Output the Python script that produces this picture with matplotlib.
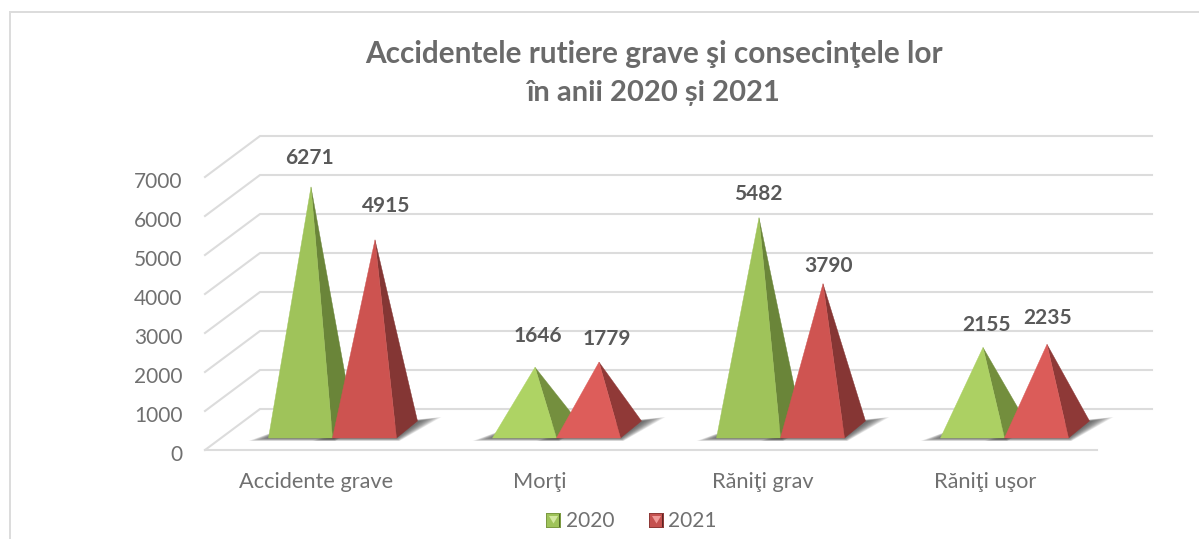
"""Accidentele rutiere: pseudo 3D pyramid chart."""
import matplotlib
matplotlib.use("Agg")
from matplotlib import pyplot as plt
from matplotlib.patches import Polygon
from matplotlib.lines import Line2D
from matplotlib.transforms import ScaledTranslation

categories = ["Accidente grave", "Morţi", "Răniţi grav", "Răniţi uşor"]
years = ["2020", "2021"]
values_2020 = [6271, 1646, 5482, 2155]
values_2021 = [4915, 1779, 3790, 2235]
y_ticks = [0, 1000, 2000, 3000, 4000, 5000, 6000, 7000]

WIDTH, HEIGHT = 1199, 539
TEXT = "#707070"
LABEL = "#595959"
TITLE = "#6a6a6a"
GRID = "#dcdcdc"

plt.rcParams["font.family"] = ["Lato", "DejaVu Sans"]

# one pixel in data units
px_x = 1 / 223
px_y = 1000 / 39
depth_x = 55 * px_x
depth_y = 41 * px_y

fig = plt.figure(figsize=(WIDTH / 100, HEIGHT / 100), dpi=100)
left, right, bottom, top = 205, 1152, 450, 136
ax = fig.add_axes([left / WIDTH, 1 - bottom / HEIGHT, (right - left) / WIDTH, (bottom - top) / HEIGHT])
ax.set_xlim(0, 4 + depth_x)
ax.set_ylim(0, 7000 + depth_y)
ax.patch.set_alpha(0)
for s in ax.spines.values():
    s.set_visible(False)


def mix(c1, c2, t):
    a = matplotlib.colors.to_rgb(c1)
    b = matplotlib.colors.to_rgb(c2)
    return tuple(x + (y - x) * t for x, y in zip(a, b))


# walls and floor
for v in y_ticks:
    ax.plot([0, depth_x, 4 + depth_x], [v, v + depth_y, v + depth_y], color=GRID, lw=1.5,
            solid_joinstyle="miter", zorder=1, clip_on=False)
ax.plot([0, 4], [0, 0], color=GRID, lw=1.5, zorder=1, clip_on=False)

bar_w = 64 * px_x
base_dx = 21 * px_x
base_dy = 17 * px_y
front_y = 12 * px_y
group_step = 224 * px_x

palette = [
    {"tall": ("#9fc35a", "#6a8539"), "low": ("#b1d666", "#76913f")},
    {"tall": ("#cd5350", "#843634"), "low": ("#e1605d", "#933a38")},
]


def shadow(x0):
    x1 = x0 + bar_w
    layers = 14
    for i in range(layers):
        t = 1 - i / (layers - 1)
        ax.add_patch(Polygon([(x0 - 20 * t * px_x, front_y - 3 * t * px_y),
                              (x1 + 3 * t * px_x, front_y - 3 * t * px_y),
                              (x1 + base_dx + (3 + 21 * t) * px_x, front_y + base_dy + 4 * t * px_y),
                              (x0 + base_dx, front_y + base_dy * 0.7)],
                             closed=True, fc="#303030", ec="none", alpha=0.075, zorder=2))


def pyramid(x0, value, col, z):
    t = min(value / 4000, 1) ** 2
    front = mix(col["low"][0], col["tall"][0], t)
    side = mix(col["low"][1], col["tall"][1], t)
    x1 = x0 + bar_w
    apex_x = x0 + (bar_w + base_dx) / 2
    apex_y = value + depth_y / 2 - 2 * px_y
    ax.add_patch(Polygon([(x1, front_y), (x1 + base_dx, front_y + base_dy), (apex_x, apex_y)],
                         closed=True, fc=side, ec=side, lw=0.3, zorder=3 + z * 0.01))
    ax.add_patch(Polygon([(x0, front_y), (x1, front_y), (apex_x, apex_y)],
                         closed=True, fc=front, ec=front, lw=0.3, zorder=3 + z * 0.01 + 0.005))
    return apex_x, apex_y


# manual label nudges of the source chart, in pixels from the apex
nudges = [(-2, 30), (11, 35), (3, 32), (8, 24), (-1, 25), (5, 19), (3, 23), (1, 27)]
k = 0
for i, cat in enumerate(categories):
    mid = 0.5 + i * group_step + depth_x / 2 - 1 * px_x
    for j, vals in enumerate([values_2020, values_2021]):
        x0 = mid - bar_w - base_dx / 2 + j * bar_w
        shadow(x0)
        apex = pyramid(x0, vals[i], palette[j], k)
        ax.annotate(str(vals[i]), apex, xytext=(nudges[k][0] * 0.72, (nudges[k][1] - 1) * 0.72),
                    textcoords="offset points", ha="center", va="center", fontsize=15,
                    fontweight="bold", color=LABEL, zorder=10)
        k += 1

ax.set_yticks(y_ticks)
ax.set_yticklabels([str(v) for v in y_ticks])
ax.set_xticks([i + 0.5 for i in range(len(categories))])
ax.set_xticklabels(categories)
ax.tick_params(axis="y", length=0, pad=16, labelsize=15, labelcolor=TEXT)
ax.tick_params(axis="x", length=0, pad=16, labelsize=15.7, labelcolor=TEXT)
for lab in ax.get_yticklabels():
    lab.set_transform(lab.get_transform() + ScaledTranslation(0, -3 / 100, fig.dpi_scale_trans))

# title
fig.text(653.5 / WIDTH, 1 - 54 / HEIGHT, "Accidentele rutiere grave şi consecinţele lor", ha="center", va="center",
         fontsize=21.4, fontweight="bold", color=TITLE)
fig.text(653.5 / WIDTH, 1 - 93 / HEIGHT, "în anii 2020 și 2021", ha="center", va="center",
         fontsize=21, fontweight="bold", color=TITLE)


def legend_key(x, y, size, edge, mid_c, light, dark):
    """Small bevelled square, as Excel draws it."""
    def pts(corners):
        return [((x + a) / WIDTH, 1 - (y + b) / HEIGHT) for a, b in corners]
    s = size
    c = s / 2
    for corners, fc in [([(0, 0), (s, 0), (s, s), (0, s)], edge),
                        ([(1, 1), (s - 2, 1), (s - 2, s - 1), (1, s - 1)], mid_c),
                        ([(3, 3), (s - 3, 3), (c, c + 3)], light),
                        ([(s - 2, 1), (s - 1, 1), (s - 1, s - 1), (s - 2, s - 1)], dark)]:
        fig.add_artist(Polygon(pts(corners), closed=True, transform=fig.transFigure, fc=fc, ec="none"))


legend_key(546, 513, 15, "#7c9a42", "#9fc35a", "#d3e8a0", "#4f6628")
legend_key(649, 513, 15, "#8f3a38", "#c55250", "#f09a98", "#5e2523")
fig.text(566 / WIDTH, 1 - 521 / HEIGHT, years[0], ha="left", va="center", fontsize=15, color=TEXT)
fig.text(668 / WIDTH, 1 - 521 / HEIGHT, years[1], ha="left", va="center", fontsize=15, color=TEXT)

# chart frame, cropped on the right and at the bottom
for xs, ys in [((10, 10), (12, 539)), ((10, 1199), (12, 12))]:
    fig.add_artist(Line2D([x / WIDTH for x in xs], [1 - y / HEIGHT for y in ys], color=GRID, lw=1.4))

fig.savefig("out.png", dpi=100)
